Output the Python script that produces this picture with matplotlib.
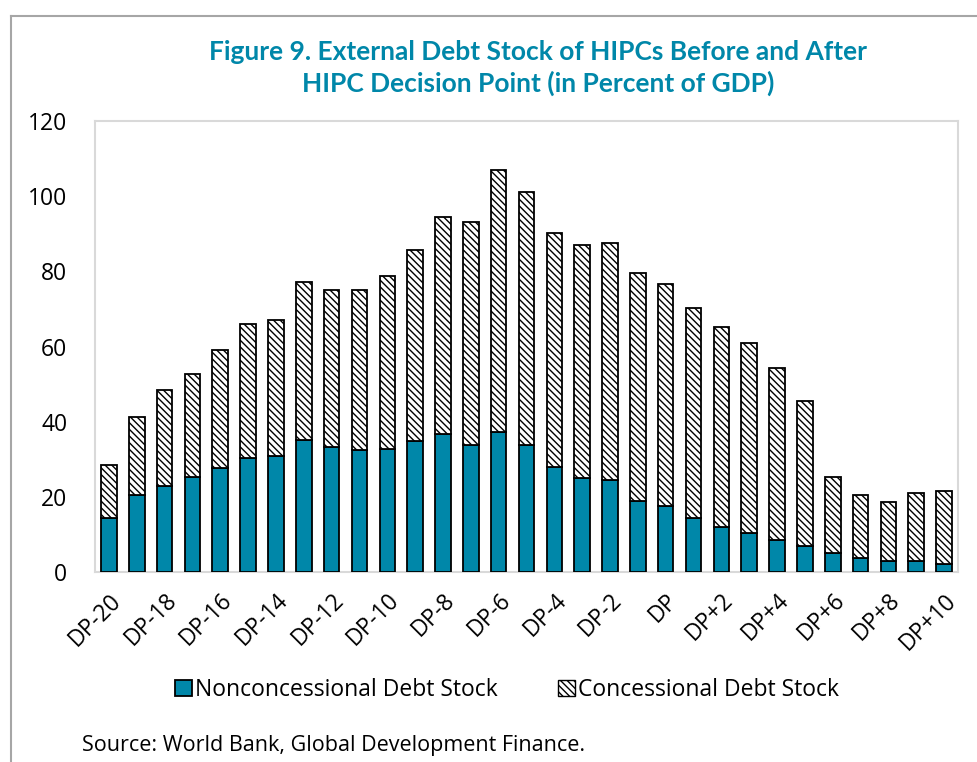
import numpy as np
import matplotlib
matplotlib.use("Agg")
import matplotlib.pyplot as plt
from matplotlib.patches import Patch
from matplotlib.lines import Line2D

plt.rcParams['font.family'] = ['Open Sans', 'DejaVu Sans']
plt.rcParams['hatch.linewidth'] = 1.0

# periods relative to the HIPC decision point
periods = ['DP-20', 'DP-19', 'DP-18', 'DP-17', 'DP-16', 'DP-15', 'DP-14', 'DP-13',
           'DP-12', 'DP-11', 'DP-10', 'DP-9', 'DP-8', 'DP-7', 'DP-6', 'DP-5',
           'DP-4', 'DP-3', 'DP-2', 'DP-1', 'DP', 'DP+1', 'DP+2', 'DP+3', 'DP+4',
           'DP+5', 'DP+6', 'DP+7', 'DP+8', 'DP+9', 'DP+10']

# nonconcessional debt stock (% of GDP)
nonconcessional = [14.3, 20.4, 22.8, 25.3, 27.8, 30.3, 30.8, 35.2, 33.3, 32.4,
                   32.8, 34.8, 36.7, 33.9, 37.2, 33.9, 27.9, 25.0, 24.4, 19.0,
                   17.5, 14.5, 12.1, 10.5, 8.5, 7.0, 5.0, 3.6, 3.0, 3.0, 2.0]

# total debt stock (top of each bar)
total = [28.5, 41.3, 48.4, 52.8, 59.2, 66.1, 67.1, 77.1, 75.1, 75.1,
         78.7, 85.7, 94.5, 93.2, 106.9, 101.1, 90.1, 87.1, 87.6, 79.6,
         76.7, 70.2, 65.3, 60.9, 54.3, 45.4, 25.4, 20.5, 18.6, 21.1, 21.5]

concessional = [t - n for t, n in zip(total, nonconcessional)]

teal = '#0087a9'

fig = plt.figure(figsize=(9.77, 7.62), dpi=100)
ax = fig.add_axes([95 / 977, 1 - 572 / 762, (958 - 95) / 977, (572 - 121) / 762])

x = np.arange(len(periods))
ax.bar(x, nonconcessional, width=0.56, color=teal, edgecolor='black', linewidth=1.3,
       label='Nonconcessional Debt Stock', zorder=3)
ax.bar(x, concessional, width=0.56, bottom=nonconcessional, color='white',
       edgecolor='black', hatch='\\\\\\\\\\', linewidth=1.3,
       label='Concessional Debt Stock', zorder=3)

ax.set_xlim(-0.5, len(periods) - 0.5)
ax.set_ylim(0, 120)
ax.set_yticks(range(0, 121, 20))
ax.set_xticks(x[::2])
ax.set_xticklabels(periods[::2], rotation=45, ha='right', rotation_mode='anchor')
ax.tick_params(axis='both', length=0, labelsize=16.5, colors='black')
ax.tick_params(axis='y', pad=20)
ax.tick_params(axis='x', pad=12)
for s in ax.spines.values():
    s.set_color('#d9d9d9')
    s.set_linewidth(1.5)

fig.text(538 / 977, 1 - 68 / 762, 'Figure 9. External Debt Stock of HIPCs Before and After\nHIPC Decision Point (in Percent of GDP)',
         ha='center', va='center', fontsize=19, fontweight='bold', color=teal,
         family=['Lato', 'DejaVu Sans'], linespacing=1.33)

handles = [Patch(facecolor=teal, edgecolor='black', linewidth=1.3),
           Patch(facecolor='white', edgecolor='black', hatch='\\\\\\\\\\', linewidth=1.0)]
fig.legend(handles, ['Nonconcessional Debt Stock', 'Concessional Debt Stock'],
           loc='center', bbox_to_anchor=(507 / 977, 1 - 690 / 762), ncol=2, frameon=False,
           fontsize=16.5, handlelength=0.75, handleheight=0.75, handletextpad=0.15,
           columnspacing=2.6)

fig.text(82 / 977, 1 - 745 / 762, 'Source: World Bank, Global Development Finance.',
         ha='left', va='center', fontsize=15.5)

# outer frame lines (left and top)
fig.add_artist(Line2D([11 / 977, 11 / 977], [0, 1 - 16 / 762], color='#a6a6a6', linewidth=1.5))
fig.add_artist(Line2D([11 / 977, 1], [1 - 16 / 762, 1 - 16 / 762], color='#a6a6a6', linewidth=1.5))

fig.savefig('out.png', dpi=100)
